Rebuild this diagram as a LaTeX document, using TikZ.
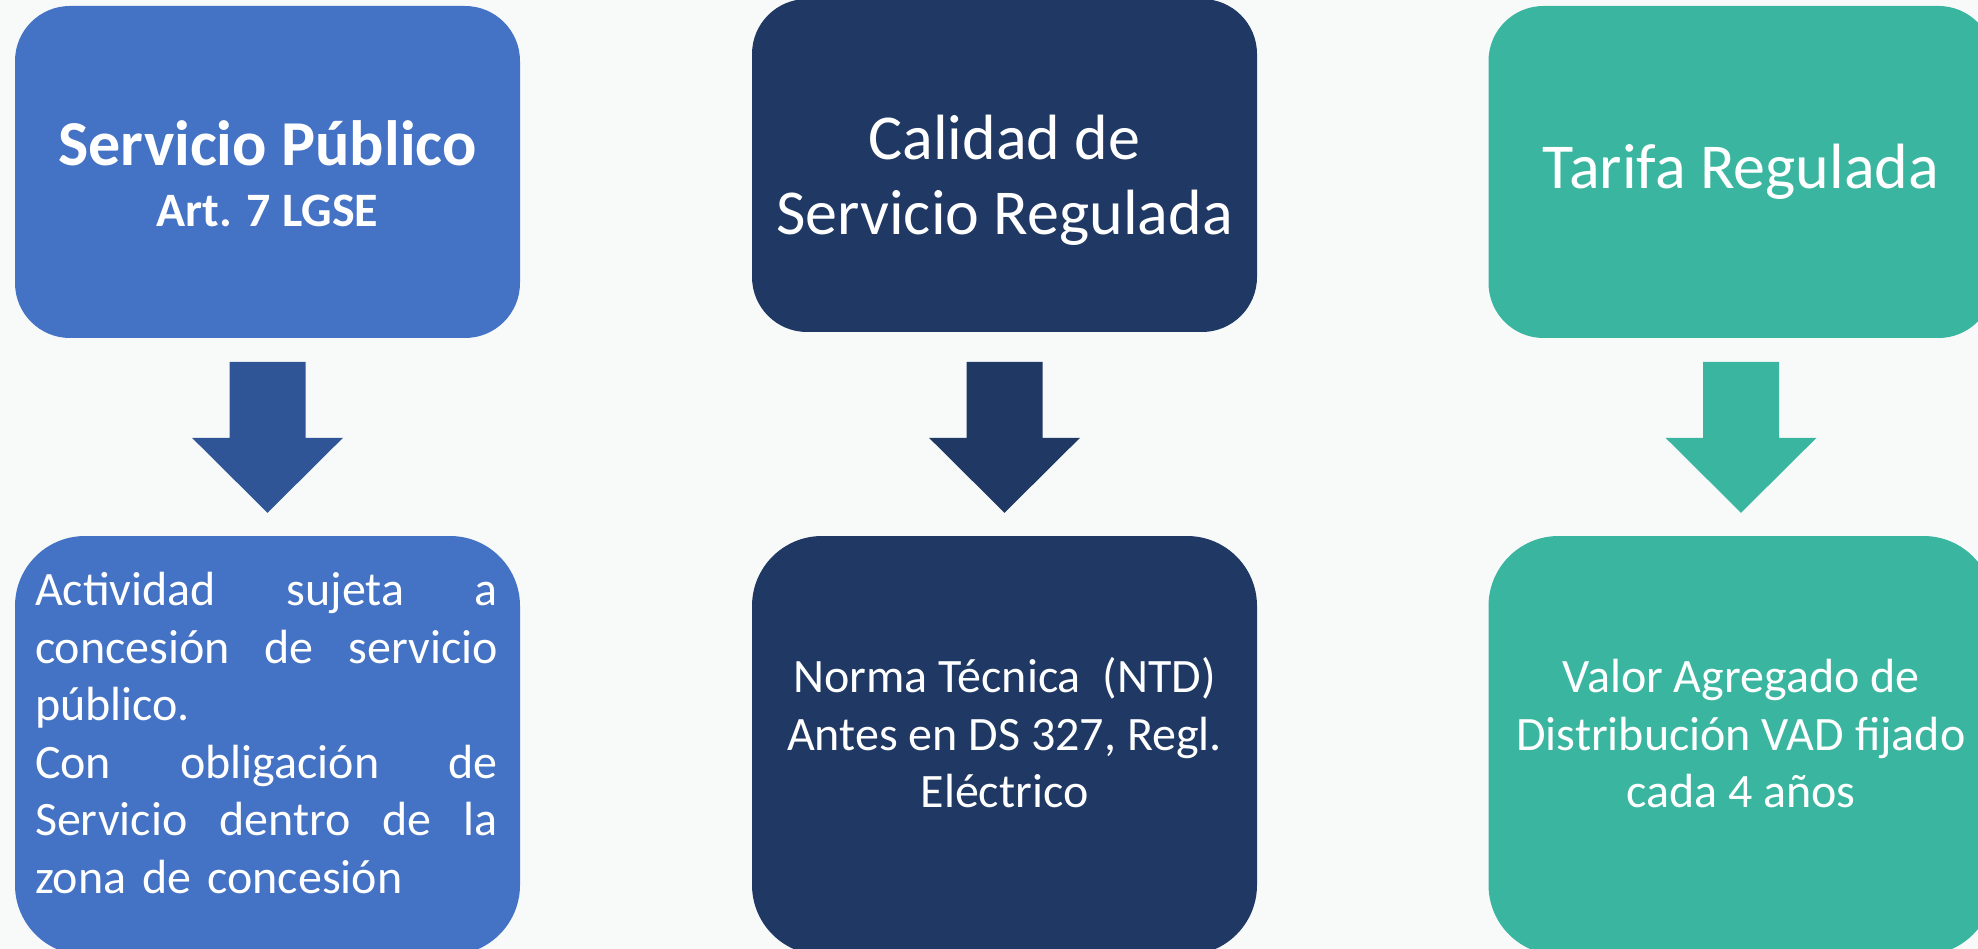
\documentclass[tikz,border=0pt]{standalone}
\usepackage{fontspec}
\setmainfont{Carlito}

\definecolor{spblue}{HTML}{4472C4}
\definecolor{sparrow}{HTML}{2F5597}
\definecolor{navy}{HTML}{203864}
\definecolor{teal}{HTML}{3AB6A0}
\definecolor{paper}{HTML}{F8FAFA}

\begin{document}
\begin{tikzpicture}[x=1pt, y=-1pt,
  card/.style={rounded corners=55pt, minimum width=505pt, minimum height=332pt, inner sep=0pt},
  note/.style={rounded corners=70pt, minimum width=505pt, minimum height=419pt, inner sep=0pt},
  head/.style={text=white, align=center, inner sep=0pt, font=\fontsize{64}{75}\selectfont},
  body/.style={text=white, align=center, inner sep=0pt, font=\fontsize{48}{57.5}\selectfont}]
\useasboundingbox (0,0) rectangle (1978,949);
\clip (0,0) rectangle (1978,949);
\fill[paper] (0,0) rectangle (1978,949);
% top row
\node[card, fill=spblue] (sp) at (267.5,172) {};
\node[card, fill=navy, minimum height=333pt] (cal) at (1004.5,165.5) {};
\node[card, fill=teal] (tar) at (1741,172) {};
\node[head, font=\bfseries\fontsize{48}{61}\selectfont] (spT) at ([yshift=-2pt]sp.center) {{\fontsize{64}{61}\selectfont Servicio Público}\\Art. 7 LGSE};
\node[head] (calT) at ([yshift=-15pt]cal.center) {Calidad de\\Servicio Regulada};
\node[head] (tarT) at (tar) {Tarifa Regulada};
% bottom row
\node[note, fill=spblue] (act) at (267.5,745.5) {};
\node[note, fill=navy] (nor) at (1004.5,745.5) {};
\node[note, fill=teal] (vad) at (1741,745.5) {};
\node[body, align=left, text width=463pt] (actT) at (266.5,733) {\makebox[463pt][l]{Actividad\hfill sujeta\hfill a}\\\makebox[463pt][l]{concesión\hfill de\hfill servicio}\\público.\\\makebox[463pt][l]{Con\hfill obligación\hfill de}\\\makebox[463pt][l]{Servicio\hfill dentro\hfill de\hfill la}\\zona de concesión};
\node[body] (norT) at (1004.5,733) {Norma Técnica\ \ (NTD)\\Antes en DS 327, Regl.\\Eléctrico};
\node[body] (vadT) at (1741,734) {Valor Agregado de\\Distribución VAD fijado\\cada 4 años};
% block arrows
\foreach \a/\b/\c in {sp/act/sparrow, cal/nor/navy, tar/vad/teal}
  \fill[\c] ([yshift=23pt]\b.north) -- ++(-75.5,-75) -- ++(37.5,0) -- ++(0,-76)
    -- ++(76,0) -- ++(0,76) -- ++(37.5,0) -- cycle;
\end{tikzpicture}
\end{document}
